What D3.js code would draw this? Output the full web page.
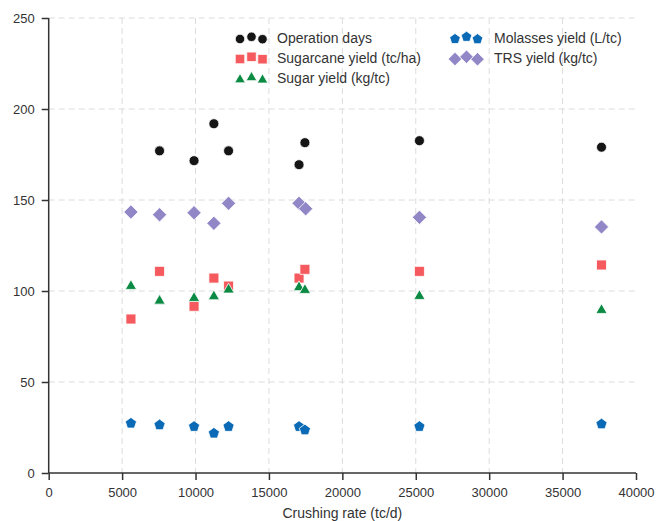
<!DOCTYPE html>
<html>
<head>
<meta charset="utf-8">
<script src="https://cdn.jsdelivr.net/npm/d3@7"></script>
<style>
  html, body { margin: 0; padding: 0; background: #fff; }
  svg { display: block; font-family: "Liberation Sans", Arial, sans-serif; }
</style>
</head>
<body>
<svg id="chart" width="656" height="521"></svg>
<script>
// ---- Data ----
const crushingRate = [5600, 7550, 9900, 11250, 12250, 17050, 17450, 25250, 37650];
const operationDays = [null, 177, 171.6, 191.9, 177, 169.4, 181.5, 182.6, 179];
const sugarcaneYield = [84.6, 110.8, 91.6, 107.1, 102.7, 107.1, 111.9, 110.8, 114.3];
const sugarYield = [103.1, 95, 96.5, 97.4, 101.1, 102.4, 100.9, 97.6, 89.9];
const molassesYield = [27.3, 26.4, 25.5, 21.8, 25.5, 25.5, 23.6, 25.5, 26.9];
const trsYield = [143.4, 141.9, 143, 137.2, 148.2, 148.2, 145.2, 140.5, 135.2];
const trsX = [5600, 7550, 9900, 11250, 12250, 17050, 17500, 25250, 37650];
const xTicks = [0, 5000, 10000, 15000, 20000, 25000, 30000, 35000, 40000];
const yTicks = [0, 50, 100, 150, 200, 250];
const seriesNames = ["Operation days", "Sugarcane yield (tc/ha)", "Sugar yield (kg/tc)", "Molasses yield (L/tc)", "TRS yield (kg/tc)"];

// ---- Setup ----
const svg = d3.select("#chart");
const x = d3.scaleLinear().domain([0, 40000]).range([48.7, 636]);
const y = d3.scaleLinear().domain([0, 250]).range([473, 18]);

// custom symbol types (size = nominal width in px)
const shapes = {
  circle: { draw(ctx, s) { const r = s / 2; ctx.moveTo(r, 0); ctx.arc(0, 0, r, 0, 2 * Math.PI); } },
  square: { draw(ctx, s) { const h = s / 2; ctx.rect(-h, -h, s, s); } },
  triangle: { draw(ctx, s) { const r = s * 0.62; for (let i = 0; i < 3; i++) { const a = -Math.PI / 2 + i * 2 * Math.PI / 3; const px = r * Math.cos(a), py = r * Math.sin(a) + r * 0.12; if (i === 0) ctx.moveTo(px, py); else ctx.lineTo(px, py); } ctx.closePath(); } },
  diamond: { draw(ctx, s) { const r = s * 0.68; ctx.moveTo(0, -r); ctx.lineTo(r, 0); ctx.lineTo(0, r); ctx.lineTo(-r, 0); ctx.closePath(); } },
  pentagon: { draw(ctx, s) { const r = s * 0.56; for (let i = 0; i < 5; i++) { const a = -Math.PI / 2 + i * 2 * Math.PI / 5; const px = r * Math.cos(a), py = r * Math.sin(a); if (i === 0) ctx.moveTo(px, py); else ctx.lineTo(px, py); } ctx.closePath(); } }
};

const series = [
  { name: seriesNames[0], xs: crushingRate, ys: operationDays, shape: "circle", color: "#151515", size: 10 },
  { name: seriesNames[1], xs: crushingRate, ys: sugarcaneYield, shape: "square", color: "#f55b5e", size: 10 },
  { name: seriesNames[2], xs: crushingRate, ys: sugarYield, shape: "triangle", color: "#0a8a42", size: 10.5 },
  { name: seriesNames[3], xs: crushingRate, ys: molassesYield, shape: "pentagon", color: "#0a6ab5", size: 10.5 },
  { name: seriesNames[4], xs: trsX, ys: trsYield, shape: "diamond", color: "#9187c6", size: 10.5 }
];

// ---- Grid ----
const grid = svg.append("g");
grid.selectAll("line.gx").data(xTicks.filter(t => t > 0 && t < 40000)).enter().append("line")
  .attr("x1", d => x(d)).attr("x2", d => x(d)).attr("y1", y(250)).attr("y2", y(0))
  .attr("stroke", "#dcdcdc").attr("stroke-width", 1).attr("stroke-dasharray", "6,4");
grid.selectAll("line.gy").data(yTicks.filter(t => t > 0)).enter().append("line")
  .attr("x1", x(0)).attr("x2", x(40000) + 2).attr("y1", d => y(d)).attr("y2", d => y(d))
  .attr("stroke", "#dcdcdc").attr("stroke-width", 1).attr("stroke-dasharray", "6,4");

// ---- Axes ----
const xAxis = d3.axisBottom(x).tickValues(xTicks).tickSize(7).tickPadding(8).tickFormat(d3.format("d"));
const yAxis = d3.axisLeft(y).tickValues(yTicks).tickSize(7).tickPadding(7).tickFormat(d3.format("d"));
const gx = svg.append("g").attr("transform", `translate(0,${y(0)})`).call(xAxis);
const gy = svg.append("g").attr("transform", `translate(${x(0)},0)`).call(yAxis);
[gx, gy].forEach(g => {
  g.select(".domain").attr("stroke", "#333").attr("stroke-width", 1.5);
  g.selectAll(".tick line").attr("stroke", "#333").attr("stroke-width", 1.5);
  g.selectAll(".tick text").attr("fill", "#333").style("font-size", "13px").style("font-family", '"Liberation Sans", Arial, sans-serif');
});
gx.select(".domain").attr("d", `M${x(0)},0H${x(40000)}`);
gy.select(".domain").attr("d", `M0,${y(250)}V${y(0)}`);

svg.append("text").attr("x", (x(0) + x(40000)) / 2).attr("y", 518)
  .attr("text-anchor", "middle").attr("fill", "#333").style("font-size", "14px")
  .text("Crushing rate (tc/d)");

// ---- Points ----
series.forEach(s => {
  const pts = s.xs.map((xv, i) => ({ x: xv, y: s.ys[i] })).filter(p => p.y != null);
  svg.append("g").selectAll("path").data(pts).enter().append("path")
    .attr("transform", d => `translate(${x(d.x)},${y(d.y)})`)
    .attr("d", d3.symbol().type(shapes[s.shape]).size(s.size))
    .attr("fill", s.color).attr("stroke", "#fff").attr("stroke-width", 0.8);
});

// ---- Legend ----
const legendPos = [
  { mx: 240, tx: 277, ty: 38 },
  { mx: 240, tx: 277, ty: 58 },
  { mx: 240, tx: 277, ty: 78 },
  { mx: 455, tx: 494, ty: 38 },
  { mx: 455, tx: 494, ty: 58 }
];
const offs = [[0, 1], [11.5, -1.2], [22.5, 1.2]];
series.forEach((s, i) => {
  const p = legendPos[i];
  const g = svg.append("g");
  offs.forEach(o => {
    g.append("path").attr("transform", `translate(${p.mx + o[0]},${p.ty + o[1]})`)
      .attr("d", d3.symbol().type(shapes[s.shape]).size(s.size - 0.5))
      .attr("fill", s.color).attr("stroke", "#fff").attr("stroke-width", 0.8);
  });
  g.append("text").attr("x", p.tx).attr("y", p.ty).attr("dy", "0.35em")
    .attr("fill", "#333").style("font-size", "14px").text(s.name);
});
</script>
</body>
</html>
